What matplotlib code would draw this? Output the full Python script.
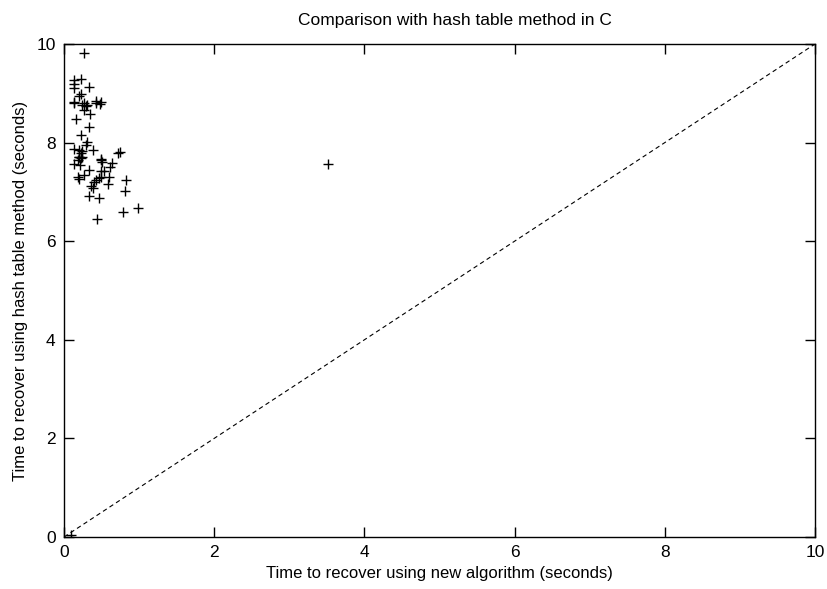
import matplotlib
matplotlib.use('Agg')
import matplotlib.pyplot as plt

plt.rcParams['font.family'] = ['Liberation Sans', 'DejaVu Sans']

# recovery times (seconds): new algorithm vs hash table method
new_algo = [0.27, 0.13, 0.23, 0.13, 0.33, 0.13, 0.20, 0.22, 0.13, 0.27, 0.42, 0.49,
            0.13, 0.24, 0.29, 0.31, 0.42, 0.48, 0.27, 0.35, 0.16, 0.33, 0.23, 0.31,
            0.29, 0.13, 0.20, 0.22, 0.24, 0.38, 0.72, 0.75, 0.20, 0.24, 0.49,
            0.20, 0.22, 0.19, 0.49, 0.51, 0.64, 0.61, 0.13, 0.21, 0.33, 0.49, 0.53,
            0.26, 0.18, 0.20, 0.60, 0.49, 0.47, 0.42, 0.40, 0.36, 0.38, 0.58, 0.83,
            0.81, 0.33, 0.47, 0.99, 0.78, 0.44, 3.52, 0.09]
hash_table = [9.82, 9.27, 9.29, 9.18, 9.13, 9.10, 8.95, 8.98, 8.83, 8.80, 8.84, 8.83,
              8.81, 8.76, 8.74, 8.76, 8.81, 8.78, 8.67, 8.59, 8.47, 8.31, 8.15, 8.02,
              7.95, 7.88, 7.85, 7.79, 7.82, 7.84, 7.79, 7.80, 7.71, 7.70, 7.66,
              7.71, 7.68, 7.65, 7.65, 7.61, 7.58, 7.51, 7.56, 7.55, 7.44, 7.42, 7.42,
              7.34, 7.31, 7.26, 7.31, 7.31, 7.28, 7.24, 7.21, 7.11, 7.07, 7.17, 7.24,
              7.02, 6.92, 6.87, 6.67, 6.59, 6.46, 7.56, 0.05]
diag = [0, 10]

fig = plt.figure(figsize=(8.28, 5.89), dpi=100)
ax = fig.add_axes([0.0773, 0.0883, 0.907, 0.837])

ax.plot(new_algo, hash_table, linestyle='none', marker='+', markersize=7,
        markeredgewidth=1.0, color='black')
ax.plot(diag, diag, linestyle=(0, (4, 3)), linewidth=0.8, color='black')

ax.set_xlim(0, 10)
ax.set_ylim(0, 10)
ax.set_xticks([0, 2, 4, 6, 8, 10])
ax.set_yticks([0, 2, 4, 6, 8, 10])
ax.tick_params(direction='in', length=7, width=1, top=True, right=True,
               labelsize=12.5, pad=6)
for s in ax.spines.values():
    s.set_linewidth(1.0)

ax.set_xlabel('Time to recover using new algorithm (seconds)', fontsize=12, labelpad=4)
ax.set_ylabel('Time to recover using hash table method (seconds)', fontsize=12, labelpad=6)
ax.set_title('Comparison with hash table method in C', fontsize=12.5, pad=14, x=0.52)

fig.savefig('out.png', dpi=100)
